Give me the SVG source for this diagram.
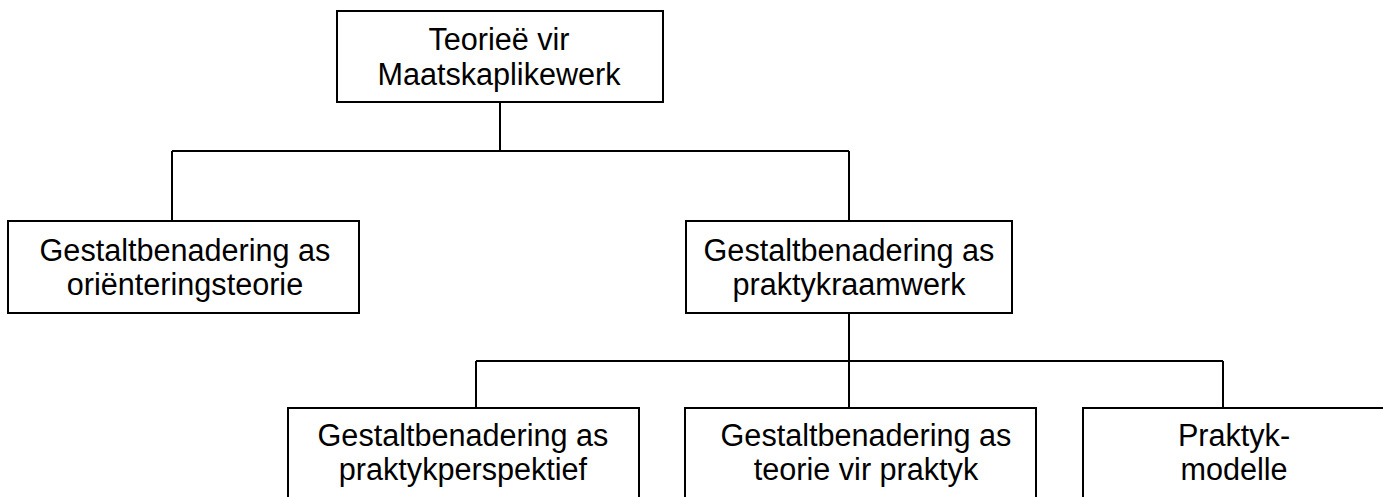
<svg xmlns="http://www.w3.org/2000/svg" width="1383" height="497" viewBox="0 0 1383 497">
<style>
.box{fill:#fff;stroke:#000;stroke-width:2}
.conn{fill:none;stroke:#000;stroke-width:2}
text{font-family:"Liberation Sans",Arial,sans-serif;font-size:30.6px;fill:#000;text-anchor:middle}
</style>
<rect width="1383" height="497" fill="#fff"/>
<g id="connectors">
<path class="conn" d="M500 102V151M172 151H849M172 151V221M849 151V221"/>
<path class="conn" d="M849 314V361M476 361H1223M476 361V408M849 361V408M1223 361V408"/>
</g>
<g id="root">
<rect class="box" x="337" y="11" width="326" height="91"/>
<text x="499" y="50">Teorieë vir</text>
<text x="499" y="85">Maatskaplikewerk</text>
</g>
<g id="orientering">
<rect class="box" x="8" y="221" width="351" height="92"/>
<text x="185" y="261">Gestaltbenadering as</text>
<text x="185" y="295">oriënteringsteorie</text>
</g>
<g id="praktykraamwerk">
<rect class="box" x="686" y="221" width="326" height="92"/>
<text x="849" y="261">Gestaltbenadering as</text>
<text x="849" y="295">praktykraamwerk</text>
</g>
<g id="praktykperspektief">
<rect class="box" x="288" y="408" width="351" height="110"/>
<text x="463" y="446">Gestaltbenadering as</text>
<text x="463" y="480">praktykperspektief</text>
</g>
<g id="teorievirpraktyk">
<rect class="box" x="685" y="408" width="351" height="110"/>
<text x="866" y="446">Gestaltbenadering as</text>
<text x="866" y="480">teorie vir praktyk</text>
</g>
<g id="praktykmodelle">
<rect class="box" x="1083" y="408" width="305" height="110"/>
<text x="1234" y="446">Praktyk-</text>
<text x="1234" y="480">modelle</text>
</g>
</svg>
